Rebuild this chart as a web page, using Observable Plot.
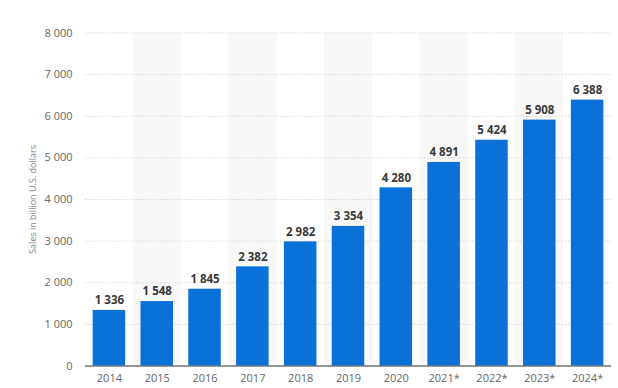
<!DOCTYPE html>
<html>
<head>
<meta charset="utf-8">
<script src="https://cdn.jsdelivr.net/npm/d3@7"></script>
<script src="https://cdn.jsdelivr.net/npm/@observablehq/plot@0.6"></script>
<style>
  html, body { margin: 0; padding: 0; background: #fff; }
  #chart svg { display: block; }
</style>
</head>
<body>
<div id="chart"></div>
<script>
const years = ["2014","2015","2016","2017","2018","2019","2020","2021*","2022*","2023*","2024*"];
const sales = [1336, 1548, 1845, 2382, 2982, 3354, 4280, 4891, 5424, 5908, 6388];
const yTicks = [0, 1000, 2000, 3000, 4000, 5000, 6000, 7000, 8000];
const yLabel = "Sales in billion U.S. dollars";

const data = years.map((year, i) => ({year, value: sales[i]}));
const bands = years.filter((_, i) => i % 2 === 1).map(year => ({year, top: yTicks[yTicks.length - 1]}));

const fmt = d3.formatLocale({decimal: ".", thousands: " ", grouping: [3], currency: ["", ""]}).format(",");

const W = 618, H = 388;
const mL = 85, mR = 7, mT = 32.5, mB = 22.5;
const pInner = 0.32, pOuter = 0.16;
const step = (W - mL - mR) / years.length;
const bandInset = -step * pInner / 2;

const chart = Plot.plot({
  width: W,
  height: H,
  marginLeft: mL,
  marginRight: mR,
  marginTop: mT,
  marginBottom: mB,
  style: {fontFamily: "'Open Sans', 'DejaVu Sans', sans-serif", background: "#fff"},
  x: {domain: years, paddingInner: pInner, paddingOuter: pOuter, round: false, label: null},
  y: {domain: [0, 8000], label: null},
  marks: [
    Plot.barY(bands, {x: "year", y: "top", fill: "#f8f8f8", insetLeft: bandInset, insetRight: bandInset}),
    Plot.ruleY(yTicks.filter(d => d > 0), {stroke: "#d9d9d9", strokeDasharray: "1.5,1.5", strokeWidth: 1}),
    Plot.barY(data, {x: "year", y: "value", fill: "#0a71d9"}),
    Plot.ruleY([0], {stroke: "#333", strokeWidth: 1.2}),
    Plot.text(data, {x: "year", y: "value", text: d => fmt(d.value), dy: -10, fill: "#3a3a3a", fontWeight: "bold", fontSize: 11.5, textAnchor: "middle"}),
    Plot.axisY({ticks: yTicks, tickSize: 0, tickPadding: 13, tickFormat: fmt, fontSize: 11, color: "#666", label: null}),
    Plot.axisX({tickSize: 0, tickPadding: 8, fontSize: 11, color: "#666", label: null, style: {letterSpacing: "0.5px"}}),
    Plot.text([yLabel], {frameAnchor: "left", rotate: -90, dx: -52, fontSize: 9, fill: "#888", textAnchor: "middle"})
  ]
});
document.getElementById("chart").appendChild(chart);
</script>
</body>
</html>
